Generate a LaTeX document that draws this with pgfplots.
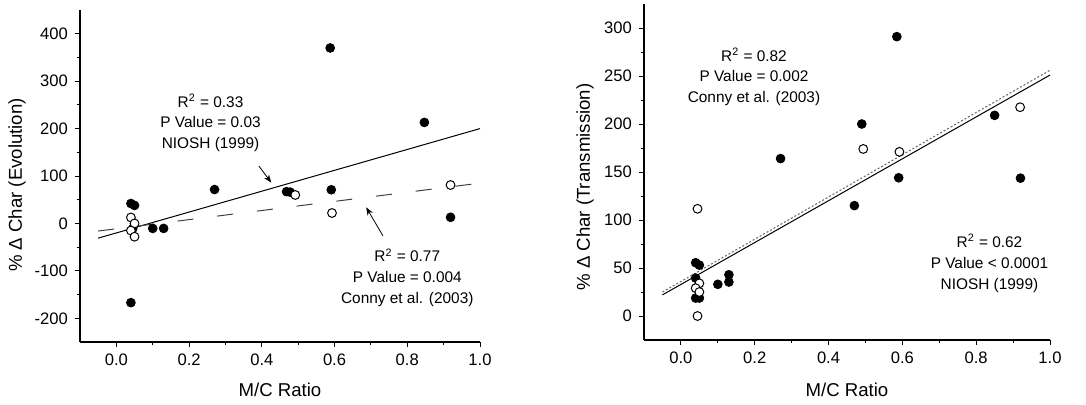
\documentclass[border=0pt]{standalone}
\usepackage{fontspec}
\setmainfont{Liberation Sans}
\usepackage{pgfplots}
\pgfplotsset{compat=1.18}
\usetikzlibrary{arrows.meta}

\tikzset{ann/.style={font=\fontsize{7.7}{10.4}\selectfont, align=center}}
\pgfplotsset{
  myaxis/.style={
    scale only axis,
    axis x line=bottom, axis y line=left,
    axis line style={-, line width=0.6pt},
    tick align=outside,
    major tick length=2.5pt, minor tick length=1.5pt,
    every tick/.style={black, line width=0.5pt},
    minor x tick num=1, minor y tick num=1,
    xmin=-0.1, xmax=1.0,
    xtick={0,0.2,0.4,0.6,0.8,1.0},
    x tick label style={/pgf/number format/.cd, fixed, fixed zerofill, precision=1},
    /pgf/number format/assume math mode=true,
    tick label style={font=\fontsize{8.3}{10}\selectfont},
    label style={font=\fontsize{9.3}{11}\selectfont},
    clip=false,
  },
  niosh/.style={only marks, mark=*, mark size=2.2pt, mark options={fill=black, draw=black}},
  conny/.style={only marks, mark=*, mark size=2.2pt, mark options={fill=white, draw=black, line width=0.5pt}},
}

\begin{document}
\begin{tikzpicture}
\useasboundingbox (0,0) rectangle (543pt,202pt);

% ---------------- left panel ----------------
\begin{axis}[myaxis,
  at={(40pt,31pt)}, anchor=south west,
  width=200pt, height=166pt,
  ymin=-250, ymax=450,
  ytick={-200,-100,0,100,200,300,400},
  xlabel={M/C Ratio},
  ylabel={\% Δ Char (Evolution)},
  xlabel style={at={(axis description cs:0.5,-0.1446)}, anchor=center},
  ylabel style={at={(axis description cs:-0.1575,0.473)}, anchor=center},
]
\addplot[black, line width=0.5pt] coordinates {(-0.05,-31) (1.0,200)};
\addplot[black!75, line width=0.5pt, dash pattern=on 8pt off 12pt] coordinates {(-0.05,-16) (1.0,85)};
\addplot[niosh] coordinates {
 (0.04,42) (0.05,38) (0.04,-167) (0.045,-11) (0.10,-10.5) (0.13,-10.5)
 (0.27,71.5) (0.468,67) (0.478,66) (0.588,370) (0.591,71) (0.847,213) (0.919,13)
};
\addplot[conny] coordinates {
 (0.04,12.6) (0.05,0) (0.04,-15) (0.05,-28) (0.492,60) (0.593,22) (0.919,81)
};
\draw[-{Stealth[length=4pt,width=3pt]}, line width=0.4pt] (axis cs:0.392,121) -- (axis cs:0.426,86);
\draw[-{Stealth[length=4pt,width=3pt]}, line width=0.4pt] (axis cs:0.733,-26) -- (axis cs:0.687,34);
\node[ann] at (axis cs:0.259,212) {R\textsuperscript{2} = 0.33\\P Value = 0.03\\NIOSH (1999)};
\node[ann] at (axis cs:0.80,-114) {R\textsuperscript{2} = 0.77\\P Value = 0.004\\Conny et al. (2003)};
\end{axis}

% ---------------- right panel ----------------
\begin{axis}[myaxis,
  at={(322pt,32pt)}, anchor=south west,
  width=203pt, height=168pt,
  ymin=-25, ymax=325,
  ytick={0,50,100,150,200,250,300},
  xlabel={M/C Ratio},
  ylabel={\% Δ Char (Transmission)},
  xlabel style={at={(axis description cs:0.5,-0.149)}, anchor=center},
  ylabel style={at={(axis description cs:-0.145,0.455)}, anchor=center},
]
\addplot[black, line width=0.5pt] coordinates {(-0.05,22) (1.0,251)};
\addplot[black!60, line width=0.5pt, dash pattern=on 1pt off 1pt] coordinates {(-0.05,25) (1.0,256)};
\addplot[niosh] coordinates {
 (0.04,55.5) (0.05,53) (0.04,39.5) (0.04,18.7) (0.05,18.7) (0.10,33) (0.13,43) (0.13,35.4)
 (0.27,164) (0.47,115) (0.49,200) (0.585,291) (0.59,144) (0.85,209) (0.92,143.6)
};
\addplot[conny] coordinates {
 (0.045,111.7) (0.045,0) (0.05,34) (0.04,29) (0.05,25) (0.494,174) (0.592,171) (0.919,217.5)
};
\node[ann] at (axis cs:0.198,249) {R\textsuperscript{2} = 0.82\\P Value = 0.002\\Conny et al. (2003)};
\node[ann] at (axis cs:0.836,55) {R\textsuperscript{2} = 0.62\\P Value < 0.0001\\NIOSH (1999)};
\end{axis}
\end{tikzpicture}
\end{document}
